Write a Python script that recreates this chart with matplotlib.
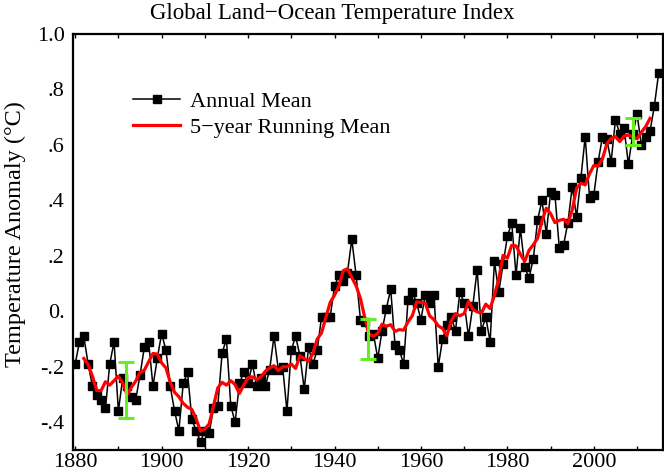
import matplotlib
matplotlib.use('Agg')
import matplotlib.pyplot as plt
import pandas as pd

# GISS land-ocean index, annual means (deg C, vs 1951-1980)
years = list(range(1880, 2016))
annual = [
    -0.19, -0.11, -0.09, -0.19, -0.27, -0.30, -0.32, -0.35, -0.19, -0.11,  # 1880s
    -0.36, -0.24, -0.27, -0.31, -0.32, -0.23, -0.13, -0.11, -0.27, -0.17,  # 1890s
    -0.08, -0.14, -0.27, -0.36, -0.43, -0.26, -0.22, -0.39, -0.43, -0.47,  # 1900s
    -0.43, -0.44, -0.35, -0.34, -0.15, -0.10, -0.34, -0.40, -0.26, -0.22,  # 1910s
    -0.26, -0.19, -0.27, -0.24, -0.27, -0.21, -0.09, -0.21, -0.20, -0.36,  # 1920s
    -0.14, -0.09, -0.16, -0.28, -0.13, -0.19, -0.14, -0.02, -0.02, -0.02,  # 1930s
    0.09, 0.13, 0.11, 0.14, 0.26, 0.13, -0.03, -0.04, -0.09, -0.08,       # 1940s
    -0.17, -0.07, 0.01, 0.08, -0.12, -0.14, -0.19, 0.04, 0.07, 0.03,      # 1950s
    -0.03, 0.06, 0.03, 0.06, -0.20, -0.10, -0.05, -0.02, -0.07, 0.07,     # 1960s
    0.03, -0.09, 0.02, 0.15, -0.07, -0.02, -0.11, 0.18, 0.07, 0.17,       # 1970s
    0.27, 0.32, 0.13, 0.30, 0.16, 0.12, 0.19, 0.33, 0.40, 0.28,           # 1980s
    0.43, 0.42, 0.23, 0.24, 0.32, 0.45, 0.34, 0.48, 0.63, 0.41,           # 1990s
    0.42, 0.54, 0.63, 0.62, 0.54, 0.69, 0.64, 0.66, 0.53, 0.64,           # 2000s
    0.71, 0.60, 0.63, 0.65, 0.74, 0.86,                                   # 2010s
]

# uncertainty bars (year, centre, half-width)
err_years = [1891.8, 1947.7, 2009.0]
err_mid = [-0.283, -0.10, 0.648]
err_half = [0.10, 0.073, 0.05]

x_ticks = [1880, 1900, 1920, 1940, 1960, 1980, 2000]
y_ticks = [-0.4, -0.2, 0.0, 0.2, 0.4, 0.6, 0.8, 1.0]
y_ticklabels = ['-.4', '-.2', '0.', '.2', '.4', '.6', '.8', '1.0']

s = pd.Series(annual, index=years)
running = s.rolling(5, center=True).mean().dropna()

plt.rcParams['font.family'] = ['Liberation Serif', 'DejaVu Serif']

fig = plt.figure(figsize=(6.64, 4.74), dpi=100)
ax = fig.add_axes([73 / 664, 24 / 474, 590 / 664, 416 / 474])

ax.plot(years, annual, color='black', lw=1.1, marker='s', ms=5.5,
        label='Annual Mean')
ax.plot(running.index, running.values, color='#ff0000', lw=2.3,
        label='5\u2212year Running Mean')
ax.errorbar(err_years, err_mid, yerr=err_half, fmt='none',
            ecolor='#66ee22', elinewidth=2.2, capsize=6, capthick=2.2)

ax.set_xlim(1879.5, 2016)
ax.set_ylim(-0.5, 1.0)
ax.set_xticks(x_ticks)
ax.set_xticks(range(1880, 2016, 10), minor=True)
ax.set_yticks(y_ticks)
ax.set_yticklabels(y_ticklabels)
ax.tick_params(which='both', direction='in', top=True, labelsize=16)
ax.tick_params(axis='x', which='both', length=3, width=1, pad=2)
ax.tick_params(axis='y', length=0, pad=6)
for sp in ax.spines.values():
    sp.set_linewidth(1.6)

ax.set_ylabel('Temperature Anomaly (°C)', fontsize=17.5)
ax.yaxis.set_label_coords(-0.08, 0.52)
fig.text(0.5, 1 - 13 / 474, 'Global Land\u2212Ocean Temperature Index',
         ha='center', va='center', fontsize=16.5)

ax.legend(loc='upper left', bbox_to_anchor=(0.102, 0.862), frameon=False,
          fontsize=16, numpoints=1, handlelength=2.1, handletextpad=0.45,
          labelspacing=0.25, borderpad=0, borderaxespad=0)

fig.savefig('out.png', dpi=100)
